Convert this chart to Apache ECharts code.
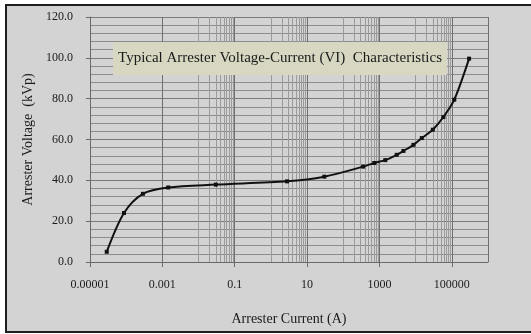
<!DOCTYPE html>
<html>
<head>
<meta charset="utf-8">
<script src="https://cdn.jsdelivr.net/npm/echarts@6/dist/echarts.min.js"></script>
<style>
html,body{margin:0;padding:0;background:#ffffff;}
#c{width:531px;height:334px;}
</style>
</head>
<body>
<div id="c"></div>
<script>
// ---- data ----
const titleText = 'Typical Arrester Voltage-Current (VI)  Characteristics';
const xName = 'Arrester Current (A)';
const yName = 'Arrester Voltage  (kVp)';
const currents = [2.9e-5, 8.7e-5, 2.9e-4, 1.45e-3, 0.03, 2.8, 30, 355, 720, 1450, 3000, 4600, 8700, 14800, 29800, 58500, 117000, 300000];
const voltages = [5.0, 24.0, 33.4, 36.5, 37.9, 39.5, 41.8, 46.7, 48.5, 49.9, 52.5, 54.4, 57.4, 60.7, 64.8, 71.0, 79.5, 99.6];
const xTickLabels = ['0.00001', '0.001', '0.1', '10', '1000', '100000'];
const yTickLabels = ['0.0', '20.0', '40.0', '60.0', '80.0', '100.0', '120.0'];
const minorDecades = [1e-4, 1e-2, 1, 100, 1e4];
const minorMultipliers = [1, 2, 3, 4, 5, 6, 7, 8, 9];

const minorX = [];
minorDecades.forEach(d => minorMultipliers.forEach(m => minorX.push({ xAxis: m * d })));

const chart = echarts.init(document.getElementById('c'), null, { renderer: 'canvas' });
const serif = '"Liberation Serif", "DejaVu Serif", serif';
const txt = '#1a1a1a';

chart.setOption({
  animation: false,
  backgroundColor: '#ffffff',
  graphic: [
    { type: 'rect', z: -10, shape: { x: 6, y: 5, width: 540, height: 327 },
      style: { fill: '#d3d3d3', stroke: '#1e1e1e', lineWidth: 2 } },
    { type: 'rect', z: 100, shape: { x: 113, y: 42, width: 334, height: 33 },
      style: { fill: '#d8d8c2' } },
    { type: 'text', z: 101, x: 280, y: 58.5,
      style: { text: titleText, font: '15px ' + serif, fill: txt, align: 'center', verticalAlign: 'middle' } }
  ],
  grid: { left: 90, right: 43, top: 17, bottom: 72, containLabel: false },
  xAxis: {
    type: 'log', logBase: 10, min: 1e-5, max: 1e6, interval: 2,
    name: xName, nameLocation: 'middle', nameGap: 50,
    nameTextStyle: { fontFamily: serif, fontSize: 14, color: txt },
    axisLine: { show: true, lineStyle: { color: '#6a6a6a', width: 1 } },
    axisTick: { show: true, length: 5, lineStyle: { color: '#6a6a6a' } },
    axisLabel: {
      fontFamily: serif, fontSize: 12, color: txt, margin: 17, showMaxLabel: false,
      formatter: function (v) {
        const e = Math.round(Math.log10(v));
        const i = (e + 5) / 2;
        return (Number.isInteger(i) && xTickLabels[i] !== undefined) ? xTickLabels[i] : '';
      }
    },
    splitLine: { show: true, lineStyle: { color: '#707070', width: 1 } }
  },
  yAxis: {
    type: 'value', min: 0, max: 120, interval: 20,
    name: yName, nameLocation: 'middle', nameGap: 55, nameRotate: 90,
    nameTextStyle: { fontFamily: serif, fontSize: 14, color: txt },
    axisLine: { show: true, lineStyle: { color: '#6a6a6a', width: 1 } },
    axisTick: { show: true, length: 4, lineStyle: { color: '#6a6a6a' } },
    axisLabel: {
      fontFamily: serif, fontSize: 12, color: txt, margin: 17,
      formatter: function (v) { return yTickLabels[Math.round(v / 20)]; }
    },
    splitLine: { show: true, lineStyle: { color: '#7a7a7a', width: 1 } },
    minorTick: { show: false, splitNumber: 5 },
    minorSplitLine: { show: true, lineStyle: { color: '#8c8c8c', width: 1 } }
  },
  series: [{
    type: 'line', z: 10,
    data: currents.map((c, i) => [c, voltages[i]]),
    smooth: 0.3,
    symbol: 'rect', symbolSize: 4,
    itemStyle: { color: '#111111' },
    lineStyle: { color: '#111111', width: 2 },
    markLine: {
      silent: true, symbol: 'none', z: 1,
      label: { show: false },
      lineStyle: { color: '#9a9a9a', type: 'solid', width: 1 },
      emphasis: { disabled: true },
      data: minorX
    }
  }]
});
</script>
</body>
</html>
